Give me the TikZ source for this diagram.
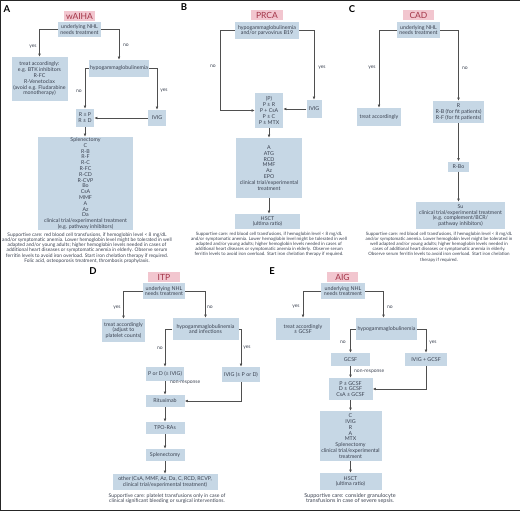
\documentclass[tikz,border=0pt]{standalone}
\usepackage{fontspec}
\setmainfont{Lato}
\usetikzlibrary{arrows.meta}
\definecolor{boxblue}{HTML}{C6D7E5}
\definecolor{pinkf}{HTML}{F2C6CF}
\definecolor{txt}{HTML}{3A4150}
\definecolor{ttltxt}{HTML}{A23447}
\definecolor{linec}{HTML}{4F4F4F}
\tikzset{
  bx/.style={fill=boxblue, inner sep=0pt, align=center, text=txt, font=\fontsize{5.3}{5.8}\selectfont},
  ttl/.style={fill=pinkf, inner sep=0pt, text=ttltxt, font=\fontsize{8.5}{9}\selectfont, minimum height=10pt},
  lbl/.style={inner sep=0pt, text=txt, font=\fontsize{5}{5.5}\selectfont},
  sup/.style={inner sep=0pt, align=center, text=txt, font=\fontsize{4.5}{5.1}\selectfont},
  con/.style={draw=linec, line width=0.75pt, -{Latex[length=3.2pt,width=2.8pt]}},
  letter/.style={inner sep=0pt, font=\fontsize{9.5}{10}\selectfont\bfseries, text=black},
  frame/.style={draw=black!85, line width=1.3pt}
}
\begin{document}
\begin{tikzpicture}[x=1pt,y=-1pt]
\useasboundingbox (0,0) rectangle (520,511);
\draw[frame] (520,0.6) -- (0.6,0.6) -- (0.6,510.2) -- (520,510.2);

% ---------------- A ----------------
\node[letter] (LA) at (7,9) {A};
\node[ttl, minimum width=31pt] (tA) at (79.5,16) {wAIHA};
\node[bx, minimum width=43pt, minimum height=15pt] (a1) at (79.5,29.5) {underlying NHL\\needs treatment};
\node[bx, minimum width=56pt, minimum height=44pt] (a2) at (39.5,79) {treat accordingly:\\e.g. BTK inhibitors\\R-FC\\R-Venetoclax\\(avoid e.g. Fludarabine\\monotherapy)};
\node[bx, minimum width=60pt, minimum height=17pt] (a3) at (119,68.5) {hypogammaglobulinemia};
\node[bx, minimum width=18pt, minimum height=16pt] (a4) at (157,118) {IVIG};
\node[bx, minimum width=18pt, minimum height=18pt] (a5) at (85,118) {R ± P\\R ± D};
\node[bx, minimum width=95pt, minimum height=93pt] (a6) at (85.5,183.5) {Splenectomy\\C\\R-B\\R-F\\R-C\\R-FC\\R-CD\\R-CVP\\Bo\\CsA\\MMF\\A\\Az\\Da\\clinical trial/experimental treatment\\(e.g. pathway inhibitors)};
\node[sup, font=\fontsize{4.9}{5.1}\selectfont] (sA) at (87,248) {Supportive care: red blood cell transfusions, if hemoglobin level < 8 mg/dL\\and/or symptomatic anemia. Lower hemoglobin level might be tolerated in well\\adapted and/or young adults; higher hemoglobin levels needed in cases of\\additional heart diseases or symptomatic anemia in elderly. Observe serum\\ferritin levels to avoid iron overload. Start iron chelation therapy if required.\\Folic acid, osteoporosis treatment, thrombosis prophylaxis.};
\draw[con] (a1.west) -| (a2.north);
\draw[con] (a1.east) -| (a3.north);
\draw[con] (a3.west) -| (a5.north);
\draw[con] (a3.east) -| (a4.north);
\draw[con] (a4.west) -- (a5.east);
\draw[con] (a5.south) -- (a5.south |- a6.north);
\node[lbl] at (33,47) {yes};
\node[lbl] at (126,45) {no};
\node[lbl] at (79,91) {no};
\node[lbl] at (164,91) {yes};

% ---------------- B ----------------
\node[letter] (LB) at (184,7.5) {B};
\node[ttl, minimum width=32pt] (tB) at (267,15.5) {PRCA};
\node[bx, minimum width=64pt, minimum height=17pt] (b1) at (267,30.5) {hypogammaglobulinemia\\and/or parvovirus B19};
\node[bx, minimum width=28pt, minimum height=35pt] (b2) at (269,110.5) {(P)\\P ± R\\P + CsA\\P ± C\\P ± MTX};
\node[bx, minimum width=15pt, minimum height=18pt] (b3) at (314,109) {IVIG};
\node[bx, minimum width=66pt, minimum height=60pt] (b4) at (269,168) {A\\ATG\\RCD\\MMF\\Az\\EPO\\clinical trial/experimental\\treatment};
\node[bx, minimum width=65pt, minimum height=15pt] (b5) at (267.5,221.5) {HSCT\\(ultima ratio)};
\node[sup] (sB) at (269,244.5) {Supportive care: red blood cell transfusions, if hemoglobin level < 8 mg/dL\\and/or symptomatic anemia. Lower hemoglobin level might be tolerated in well\\adapted and/or young adults; higher hemoglobin levels needed in cases of\\additional heart diseases or symptomatic anemia in elderly. Observe serum\\ferritin levels to avoid iron overload. Start iron chelation therapy if required.};
\coordinate (bL) at (220,30.5);
\draw[con] (b1.west) -- (bL) |- (b2.west);
\draw[con] (b1.east) -| (b3.north);
\draw[con] (b3.west) -- (b3.west -| b2.east);
\draw[con] (b2.south) -- (b4.north);
\draw[con] (b4.south) -- (b4.south |- b5.north);
\node[lbl] at (213,66) {no};
\node[lbl] at (322,68) {yes};

% ---------------- C ----------------
\node[letter] (LC) at (352,9) {C};
\node[ttl, minimum width=31pt] (tC) at (418.5,15.5) {CAD};
\node[bx, minimum width=43pt, minimum height=16pt] (c1) at (418.5,30) {underlying NHL\\needs treatment};
\node[bx, minimum width=44pt, minimum height=18pt] (c2) at (379,117) {treat accordingly};
\node[bx, minimum width=51pt, minimum height=22pt] (c3) at (458.5,112) {R\\R-B (for fit patients)\\R-F (for fit patients)};
\node[bx, minimum width=21pt, minimum height=10pt] (c4) at (458.5,166.5) {R-Bo};
\node[bx, minimum width=89pt, minimum height=27pt] (c5) at (460.5,215.5) {Su\\clinical trial/experimental treatment\\(e.g. complement/BCR/\\pathway inhibitors)};
\node[sup] (sC) at (439,247) {Supportive care: red blood cell transfusions, if hemoglobin level < 8 mg/dL\\and/or symptomatic anemia. Lower hemoglobin level might be tolerated in\\well adapted and/or young adults; higher hemoglobin levels needed in\\cases of additional heart diseases or symptomatic anemia in elderly.\\Observe serum ferritin levels to avoid iron overload. Start iron chelation\\therapy if required.};
\draw[con] (c1.west) -| (c2.north);
\draw[con] (c1.east) -| (c3.north);
\draw[con] (c3.south) -- (c4.north);
\draw[con] (c4.south) -- (c4.south |- c5.north);
\node[lbl] at (372,68) {yes};
\node[lbl] at (465,68) {no};

% ---------------- D ----------------
\node[letter] (LD) at (93,271) {D};
\node[ttl, minimum width=32pt] (tD) at (164,277) {ITP};
\node[bx, minimum width=42pt, minimum height=16pt] (d1) at (164,291) {underlying NHL\\needs treatment};
\node[bx, minimum width=43pt, minimum height=23pt] (d2) at (123.5,330.5) {treat accordingly\\(adjust to\\platelet counts)};
\node[bx, minimum width=66pt, minimum height=22pt] (d3) at (205.5,329) {hypogammaglobulinemia\\and infections};
\node[bx, minimum width=38pt, minimum height=14pt] (d4) at (165,374) {P or D (± IVIG)};
\node[bx, minimum width=38pt, minimum height=15pt] (d5) at (241,374.5) {IVIG (± P or D)};
\node[bx, minimum width=39pt, minimum height=12pt] (d6) at (165,401) {Rituximab};
\node[bx, minimum width=39pt, minimum height=12pt] (d7) at (165,428) {TPO-RAs};
\node[bx, minimum width=39pt, minimum height=12pt] (d8) at (165,455) {Splenectomy};
\node[bx, minimum width=105pt, minimum height=16pt] (d9) at (165,482) {other (CsA, MMF, Az, Da, C, RCD, RCVP,\\clinical trial/experimental treatment)};
\node[sup, font=\fontsize{5.1}{5.6}\selectfont] (sD) at (167,498.5) {Supportive care: platelet transfusions only in case of\\clinical significant bleeding or surgical interventions.};
\draw[con] (d1.west) -| (d2.north);
\draw[con] (d1.east) -| (d3.north);
\draw[con] (d3.west) -| (d4.north);
\draw[con] (d3.east) -| (d5.north);
\draw[con] (d4.south) -- (d6.north);
\draw[con] (d5.south) |- (d6.east);
\draw[con] (d6.south) -- (d7.north);
\draw[con] (d7.south) -- (d8.north);
\draw[con] (d8.south) -- (d9.north);
\node[lbl] at (117,308) {yes};
\node[lbl] at (210,307) {no};
\node[lbl] at (160,348) {no};
\node[lbl] at (247,348) {yes};
\node[lbl, anchor=west] at (170,383) {non-response};

% ---------------- E ----------------
\node[letter] (LE) at (272,271) {E};
\node[ttl, minimum width=31pt] (tE) at (342.5,277) {AIG};
\node[bx, minimum width=44pt, minimum height=16pt] (e1) at (343,291) {underlying NHL\\needs treatment};
\node[bx, minimum width=54pt, minimum height=22pt] (e2) at (303,329) {treat accordingly\\± GCSF};
\node[bx, minimum width=61pt, minimum height=22pt] (e3) at (386.5,329) {hypogammaglobulinemia};
\node[bx, minimum width=39pt, minimum height=13pt] (e4) at (350.5,359.5) {GCSF};
\node[bx, minimum width=42pt, minimum height=13pt] (e5) at (426,359.5) {IVIG + GCSF};
\node[bx, minimum width=44pt, minimum height=22pt] (e6) at (350.5,389) {P ± GCSF\\D ± GCSF\\CsA ± GCSF};
\node[bx, minimum width=62pt, minimum height=50pt] (e7) at (350.5,436) {C\\IVIG\\R\\A\\MTX\\Splenectomy\\clinical trial/experimental\\treatment};
\node[bx, minimum width=62pt, minimum height=17pt] (e8) at (350.5,481.5) {HSCT\\(ultima ratio)};
\node[sup, font=\fontsize{5.5}{5.8}\selectfont] (sE) at (350,498.5) {Supportive care: consider granulocyte\\transfusions in case of severe sepsis.};
\draw[con] (e1.west) -| (e2.north);
\draw[con] (e1.east) -| ([xshift=-3pt]e3.north);
\draw[con] (e3.west) -| (e4.north);
\draw[con] (e3.east) -| (e5.north);
\draw[con] (e4.south) -- (e6.north);
\draw[con] (e5.south) |- (e6.east);
\draw[con] (e6.south) -- (e7.north);
\draw[con] (e7.south) -- (e8.north);
\node[lbl] at (296,307) {yes};
\node[lbl] at (390,307) {no};
\node[lbl] at (343,342) {no};
\node[lbl] at (433,343) {yes};
\node[lbl, anchor=west] at (354,372) {non-response};
\end{tikzpicture}
\end{document}
